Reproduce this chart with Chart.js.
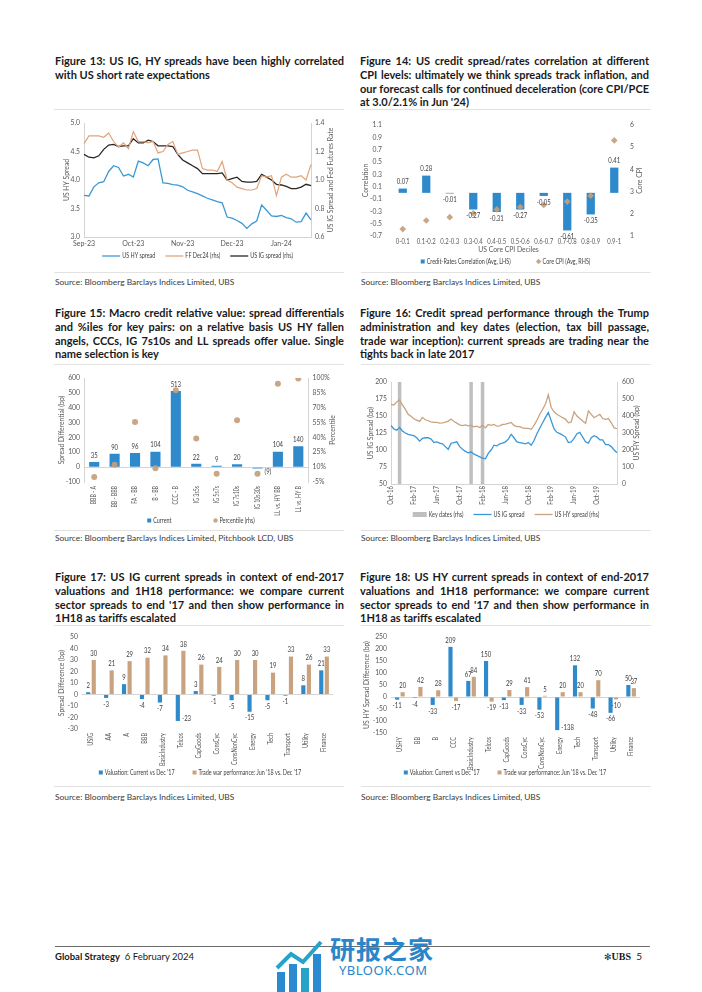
<!DOCTYPE html>
<html>
<head>
<meta charset="utf-8">
<script src="https://cdn.jsdelivr.net/npm/chart.js@4.4.1/dist/chart.umd.min.js"></script>
<style>
  html, body { margin: 0; padding: 0; background: #fff; }
  body { width: 702px; height: 992px; position: relative; overflow: hidden; font-family: Lato, "Open Sans", sans-serif; color: #1a1a1a; }
  .title { position: absolute; width: 289px; font-weight: 700; font-size: 11px; line-height: 13.8px; }
  .title span { display: block; white-space: nowrap; text-align: justify; text-align-last: justify; }
  .title span:last-child { text-align-last: left; }
  .rule { position: absolute; height: 1px; background: #e2e2e2; }
  .src { position: absolute; font-size: 8.4px; color: #3a3a3a; white-space: nowrap; }
  .box { position: absolute; }
</style>
</head>
<body>

<div class="title" style="left:55px;top:54px">
  <span>Figure 13: US IG, HY spreads have been highly correlated</span>
  <span>with US short rate expectations</span>
</div>
<div class="title" style="left:360px;top:54px">
  <span>Figure 14: US credit spread/rates correlation at different</span>
  <span>CPI levels: ultimately we think spreads track inflation, and</span>
  <span>our forecast calls for continued deceleration (core CPI/PCE</span>
  <span>at 3.0/2.1% in Jun '24)</span>
</div>
<div class="title" style="left:55px;top:306px">
  <span>Figure 15: Macro credit relative value: spread differentials</span>
  <span>and %iles for key pairs: on a relative basis US HY fallen</span>
  <span>angels, CCCs, IG 7s10s and LL spreads offer value. Single</span>
  <span>name selection is key</span>
</div>
<div class="title" style="left:360px;top:306px">
  <span>Figure 16: Credit spread performance through the Trump</span>
  <span>administration and key dates (election, tax bill passage,</span>
  <span>trade war inception): current spreads are trading near the</span>
  <span>tights back in late 2017</span>
</div>
<div class="title" style="left:55px;top:570px">
  <span>Figure 17: US IG current spreads in context of end-2017</span>
  <span>valuations and 1H18 performance: we compare current</span>
  <span>sector spreads to end '17 and then show performance in</span>
  <span>1H18 as tariffs escalated</span>
</div>
<div class="title" style="left:360px;top:570px">
  <span>Figure 18: US HY current spreads in context of end-2017</span>
  <span>valuations and 1H18 performance: we compare current</span>
  <span>sector spreads to end '17 and then show performance in</span>
  <span>1H18 as tariffs escalated</span>
</div>

<div class="rule" style="left:54px;top:109px;width:290px"></div>
<div class="rule" style="left:361px;top:109px;width:290px"></div>
<div class="rule" style="left:54px;top:272px;width:290px"></div>
<div class="rule" style="left:361px;top:272px;width:290px"></div>
<div class="rule" style="left:54px;top:364px;width:290px"></div>
<div class="rule" style="left:361px;top:364px;width:290px"></div>
<div class="rule" style="left:54px;top:530px;width:290px"></div>
<div class="rule" style="left:361px;top:530px;width:290px"></div>
<div class="rule" style="left:54px;top:625px;width:290px"></div>
<div class="rule" style="left:361px;top:625px;width:290px"></div>
<div class="rule" style="left:54px;top:786px;width:290px"></div>
<div class="rule" style="left:361px;top:786px;width:290px"></div>

<div class="src" style="left:55px;top:277px">Source: Bloomberg Barclays Indices Limited, UBS</div>
<div class="src" style="left:361px;top:277px">Source: Bloomberg Barclays Indices Limited, UBS</div>
<div class="src" style="left:55px;top:533px">Source: Bloomberg Barclays Indices Limited, Pitchbook LCD, UBS</div>
<div class="src" style="left:361px;top:533px">Source: Bloomberg Barclays Indices Limited, UBS</div>
<div class="src" style="left:55px;top:792px">Source: Bloomberg Barclays Indices Limited, UBS</div>
<div class="src" style="left:361px;top:792px">Source: Bloomberg Barclays Indices Limited, UBS</div>

<div class="box" style="left:55px;top:112px;width:290px;height:158px"><canvas id="c13"></canvas></div>
<div class="box" style="left:360px;top:112px;width:290px;height:163px"><canvas id="c14"></canvas></div>
<div class="box" style="left:55px;top:367px;width:290px;height:167px"><canvas id="c15"></canvas></div>
<div class="box" style="left:360px;top:367px;width:290px;height:161px"><canvas id="c16"></canvas></div>
<div class="box" style="left:55px;top:627px;width:290px;height:159px"><canvas id="c17"></canvas></div>
<div class="box" style="left:360px;top:627px;width:290px;height:159px"><canvas id="c18"></canvas></div>

<div style="position:absolute;left:55px;top:946px;width:595px;height:1px;background:#6b6b6b"></div>
<div style="position:absolute;left:275px;top:934px;width:160px;height:58px">
  <svg width="52" height="58" style="position:absolute;left:0;top:4px">
    <rect x="2" y="34" width="8" height="24" fill="#2a8bd0"/>
    <rect x="14" y="26" width="8" height="32" fill="#2a8bd0"/>
    <rect x="26" y="30" width="8" height="28" fill="#27a3c9"/>
    <rect x="38" y="16" width="8" height="42" fill="#2a8bd0"/>
    <polyline points="2,30 16,16 28,24 46,4" fill="none" stroke="#27a3c9" stroke-width="4"/>
  </svg>
  <div style="position:absolute;left:55px;top:0;font-family:'Noto Sans CJK SC';font-size:25px;font-weight:700;color:#2a86c8;letter-spacing:1px;line-height:28px">研报之家</div>
  <div style="position:absolute;left:64px;top:27px;font-family:'Noto Sans';font-size:13px;color:#2a86c8;letter-spacing:0.5px">YBLOOK.COM</div>
</div>
<div style="position:absolute;left:55px;top:951px;font-size:9.5px;color:#1a1a1a"><b>Global Strategy</b>&nbsp;&nbsp;6 February 2024</div>
<div style="position:absolute;left:604px;top:950px;font-size:10px;color:#1a1a1a"><span style="font-family:'DejaVu Sans';font-size:9px">✻</span><span style="font-family:'Liberation Serif';font-weight:700">UBS</span>&nbsp;&nbsp;<span style="font-family:Lato">5</span></div>

<script>
// ---- Figure 13 data ----
const f13Dates = [
  '01-Sep-23','04-Sep-23','07-Sep-23','10-Sep-23','13-Sep-23','16-Sep-23','19-Sep-23','22-Sep-23','25-Sep-23','28-Sep-23',
  '01-Oct-23','04-Oct-23','07-Oct-23','10-Oct-23','13-Oct-23','16-Oct-23','19-Oct-23','22-Oct-23','25-Oct-23','28-Oct-23',
  '01-Nov-23','04-Nov-23','07-Nov-23','10-Nov-23','13-Nov-23','16-Nov-23','19-Nov-23','22-Nov-23','25-Nov-23','28-Nov-23',
  '01-Dec-23','04-Dec-23','07-Dec-23','10-Dec-23','13-Dec-23','16-Dec-23','19-Dec-23','22-Dec-23','25-Dec-23','28-Dec-23',
  '01-Jan-24','04-Jan-24','07-Jan-24','10-Jan-24','13-Jan-24','16-Jan-24','19-Jan-24'
];
const f13HY = [3.73,3.72,3.88,3.95,3.97,4.15,4.25,4.22,4.07,4.10,
  4.05,4.33,4.30,4.25,4.36,4.37,3.95,3.94,3.92,3.91,
  3.88,3.82,3.79,3.76,3.72,3.68,3.65,3.62,3.60,3.35,
  3.33,3.29,3.24,3.15,3.23,3.28,3.56,3.47,3.37,3.36,
  3.38,3.34,3.32,3.26,3.27,3.42,3.30];
const f13FF = [1.255,1.31,1.31,1.31,1.30,1.33,1.27,1.23,1.26,1.22,
  1.34,1.27,1.27,1.26,1.27,1.19,1.20,1.25,1.27,1.18,
  1.19,1.20,1.21,1.21,1.08,1.07,1.07,1.06,1.13,1.00,
  0.98,0.95,0.94,0.93,0.93,0.94,1.03,1.02,1.03,0.89,
  1.02,1.04,1.02,1.02,1.03,1.00,1.11];
const f13IG = [1.18,1.16,1.155,1.17,1.215,1.245,1.25,1.235,1.24,1.24,
  1.29,1.26,1.26,1.28,1.27,1.24,1.24,1.24,1.235,1.18,
  1.14,1.12,1.10,1.08,1.045,1.045,1.045,1.045,1.05,1.00,
  1.01,1.02,0.99,0.985,0.985,0.99,1.04,1.02,1.00,0.97,
  0.965,0.955,0.94,0.94,0.95,0.97,0.96];

// ---- Figure 14 data ----
const f14Cats = ['0-0.1','0.1-0.2','0.2-0.3','0.3-0.4','0.4-0.5','0.5-0.6','0.6-0.7','0.7-0.8','0.8-0.9','0.9-1'];
const f14Corr = [0.07,0.28,-0.01,-0.27,-0.31,-0.27,-0.05,-0.61,-0.35,0.41];
const f14Cpi = [1.31,1.70,1.85,2.02,2.20,2.31,2.40,2.55,2.82,5.31];

// ---- Figure 15 data ----
const f15Cats = ['BBB - A','BB - BBB','FA - BB','B - BB','CCC - B','IG 3s5s','IG 5s7s','IG 7s10s','IG 10s30s','LL vs. HY BB','LL vs. HY B'];
const f15Current = [35,90,96,104,513,22,9,20,-9,104,140];
const f15Pct = [0,12.5,55.6,9,87.6,38.8,3.4,57.3,3.4,94.3,99.4];

// ---- Figure 16 data (1st and 15th of each month) ----
const f16Months = ['Oct-16','Nov-16','Dec-16','Jan-17','Feb-17','Mar-17','Apr-17','May-17','Jun-17','Jul-17',
  'Aug-17','Sep-17','Oct-17','Nov-17','Dec-17','Jan-18','Feb-18','Mar-18','Apr-18','May-18',
  'Jun-18','Jul-18','Aug-18','Sep-18','Oct-18','Nov-18','Dec-18','Jan-19','Feb-19','Mar-19',
  'Apr-19','May-19','Jun-19','Jul-19','Aug-19','Sep-19','Oct-19','Nov-19','Dec-19','Jan-20'];
const f16Dates = f16Months.flatMap(m => ['1-' + m, '15-' + m]);
const f16IG = [136,131,129,133,128,125,123,122,121,118,
  113,117,118,118,116,111,112,110,109,105,
  101,110,111,112,105,101,98,96,97,94,
  92,90,88,87,95,100,107,106,109,110,
  112,116,123,118,112,111,110,109,111,107,
  114,124,132,140,148,155,143,131,126,124,
  122,119,111,112,117,124,126,119,112,110,
  118,121,119,115,115,108,108,105,100,96];
const f16HY = [468,464,483,495,465,440,410,398,384,376,
  368,392,378,372,366,362,362,358,360,364,
  370,382,368,358,348,344,348,342,345,336,
  340,332,345,330,350,345,350,340,342,350,
  352,357,362,345,337,337,330,327,327,322,
  345,375,410,440,470,525,450,425,410,400,
  390,382,360,365,425,400,385,370,357,430,
  410,390,400,410,385,380,385,360,330,325];
const f16KeyDates = ['15-Nov-16','1-Dec-17','1-Feb-18'];
const f16KeyLevel = 600;
const f16TickMonths = ['Oct','Feb','Jun'];

// ---- Figure 17 data ----
const f17Cats = ['USIG','AA','A','BBB','BasicIndustry','Telcos','CapGoods','ConsCyc','ConsNonCyc','Energy','Tech','Transport','Utility','Finance'];
const f17Val = [2,-3,9,-4,-7,-23,3,-1,-5,-15,-5,-1,8,21];
const f17Trade = [30,21,29,32,34,38,26,24,30,30,19,33,26,33];

// ---- Figure 18 data ----
const f18Cats = ['USHY','BB','B','CCC','BasicIndustry','Telcos','CapGoods','ConsCyc','ConsNonCyc','Energy','Tech','Transport','Utility','Finance'];
const f18Val = [-11,-4,-33,209,67,150,-13,-33,-53,-138,132,-48,-66,50];
const f18Trade = [20,42,28,-17,84,-19,29,41,5,20,20,70,-10,37];

// fit justified titles into their column
document.querySelectorAll('.title').forEach(t => {
  const w = t.clientWidth;
  const spans = t.querySelectorAll('span');
  let maxW = 0;
  spans.forEach(s => { s.style.display = 'inline-block'; maxW = Math.max(maxW, s.offsetWidth); });
  spans.forEach(s => { s.style.display = ''; });
  if (maxW > w) t.style.fontSize = (11 * w / maxW - 0.05) + 'px';
});

const BLUE = '#2f8acb';
const BLUE_LINE = '#3b98d6';
const TAN = '#c9a27f';
const DOT = 'rgba(196,158,122,0.92)';
const ORANGE = '#e0a47c';
const DARK = '#2a2624';
const GREY = '#bfbfbf';
const AXIS = '#d4d4d4';
const FONT = 'Lato, "Open Sans", sans-serif';
const FS = 6.8;
const SQUEEZE = 0.8;

Chart.defaults.font.family = FONT;
Chart.defaults.font.size = FS;
Chart.defaults.color = '#595959';
Chart.defaults.animation = false;
Chart.defaults.maintainAspectRatio = false;
Chart.defaults.plugins.tooltip.enabled = false;
Chart.defaults.plugins.legend.display = false;

// value labels on bars
const valueLabels = {
  id: 'valueLabels',
  afterDatasetsDraw(chart, args, opts) {
    if (!opts || !opts.sets) return;
    const ctx = chart.ctx, area = chart.chartArea;
    ctx.save();
    ctx.font = FS + 'px ' + FONT;
    ctx.fillStyle = '#404040';
    const put = (txt, x, y, align, base) => {
      ctx.save(); ctx.translate(x, y); ctx.scale(0.88, 1);
      ctx.textAlign = align; ctx.textBaseline = base; ctx.fillText(txt, 0, 0); ctx.restore();
    };
    opts.sets.forEach(i => {
      const meta = chart.getDatasetMeta(i);
      const vals = chart.data.datasets[i].data;
      meta.data.forEach((el, j) => {
        const v = vals[j];
        if (v == null) return;
        const txt = opts.format ? opts.format(v) : String(v);
        if (v < 0 && (opts.negRight || (opts.fitRight && el.y + 3 + FS > area.bottom))) {
          put(txt, el.x + el.width / 2 + 2, opts.negRight ? el.y + 3 : el.y - 2, 'left', 'middle');
        } else if (v >= 0) {
          put(txt, el.x, el.y - 3, 'center', 'bottom');
        } else {
          put(txt, el.x, el.y + 3, 'center', 'top');
        }
      });
    });
    ctx.restore();
  }
};
// right-hand axis title reading bottom to top
const sideTitle = {
  id: 'sideTitle',
  afterDraw(chart, args, opts) {
    if (!opts || !opts.text) return;
    const ctx = chart.ctx, a = chart.chartArea;
    ctx.save();
    ctx.font = FS + 'px ' + FONT;
    ctx.fillStyle = '#595959';
    ctx.translate(opts.x, (a.top + a.bottom) / 2);
    ctx.rotate(-Math.PI / 2);
    ctx.textAlign = 'center';
    ctx.textBaseline = 'middle';
    ctx.fillText(opts.text, 0, 0);
    ctx.restore();
  }
};
// category labels placed by the x scale, drawn slightly condensed
const catLabels = {
  id: 'catLabels',
  afterDraw(chart, args, o) {
    if (!o || !o.on) return;
    const sc = chart.scales.x, ctx = chart.ctx;
    ctx.save();
    ctx.font = (o.size || 7) + 'px ' + FONT;
    ctx.fillStyle = '#595959';
    chart.data.labels.forEach((raw, i) => {
      const txt = o.text ? o.text(raw) : raw;
      if (!txt) return;
      ctx.save();
      ctx.translate(sc.getPixelForValue(i), sc.top + o.pad);
      if (o.rotate) {
        ctx.rotate(-Math.PI / 2);
        ctx.scale(o.squeeze, 1);
        ctx.textAlign = 'right'; ctx.textBaseline = 'middle';
      } else {
        ctx.scale(o.squeeze, 1);
        ctx.textAlign = 'center'; ctx.textBaseline = 'top';
      }
      ctx.fillText(txt, 0, 0);
      ctx.restore();
    });
    ctx.restore();
  }
};
// legend row under the chart, labels taken from the datasets
const rowLegend = {
  id: 'rowLegend',
  afterDraw(chart, args, o) {
    if (!o || !o.items) return;
    const ctx = chart.ctx;
    ctx.save();
    ctx.font = FS + 'px ' + FONT;
    ctx.textBaseline = 'middle';
    const y = chart.height - o.dy;
    const parts = o.items.map(it => {
      const ds = chart.data.datasets[it.ds];
      const mw = it.mark === 'line' ? 18 : it.mark === 'bar' ? 14 : 4;
      const tw = ctx.measureText(ds.label).width * SQUEEZE;
      const color = it.mark === 'line' ? ds.borderColor : ds.backgroundColor;
      return { ds, mark: it.mark, mw, tw, color, w: mw + 2 + tw };
    });
    const total = parts.reduce((s, p) => s + p.w, 0) + o.gap * (parts.length - 1);
    let x = o.cx - total / 2;
    parts.forEach(p => {
      ctx.fillStyle = p.color; ctx.strokeStyle = p.color;
      if (p.mark === 'line') { ctx.lineWidth = 1.3; ctx.beginPath(); ctx.moveTo(x, y); ctx.lineTo(x + p.mw, y); ctx.stroke(); }
      else if (p.mark === 'bar') ctx.fillRect(x, y - 2.5, p.mw, 5);
      else if (p.mark === 'rect') ctx.fillRect(x, y - 2, 4, 4);
      else if (p.mark === 'circle') { ctx.beginPath(); ctx.arc(x + 2, y, 2.2, 0, 2 * Math.PI); ctx.fill(); }
      else if (p.mark === 'diamond') { ctx.beginPath(); ctx.moveTo(x + 2, y - 2.7); ctx.lineTo(x + 4.7, y); ctx.lineTo(x + 2, y + 2.7); ctx.lineTo(x - 0.7, y); ctx.closePath(); ctx.fill(); }
      ctx.save(); ctx.translate(x + p.mw + 2, y); ctx.scale(SQUEEZE, 1);
      ctx.fillStyle = '#404040'; ctx.textAlign = 'left'; ctx.fillText(p.ds.label, 0, 0); ctx.restore();
      x += p.w + o.gap;
    });
    ctx.restore();
  }
};
Chart.register(valueLabels, sideTitle, catLabels, rowLegend);

const zeroGrid = { drawTicks: false, color: c => (c.tick && c.tick.value === 0) ? AXIS : 'rgba(0,0,0,0)' };
const noGrid = { display: false, drawTicks: false };
const axisTitle = (t, off) => ({ display: true, text: t, padding: { top: off, bottom: 0 } });
const fitW = w => (s => { s.width = w; });
const fitH = h => (s => { s.height = h; });

// Figure 13
new Chart(document.getElementById('c13'), {
  type: 'line',
  data: {
    labels: f13Dates,
    datasets: [
      { label: 'US HY spread', data: f13HY, borderColor: BLUE_LINE, backgroundColor: BLUE_LINE, borderWidth: 1.3, pointRadius: 0, yAxisID: 'y' },
      { label: 'FF Dec24 (rhs)', data: f13FF, borderColor: ORANGE, backgroundColor: ORANGE, borderWidth: 1.2, pointRadius: 0, yAxisID: 'y1' },
      { label: 'US IG spread (rhs)', data: f13IG, borderColor: DARK, backgroundColor: DARK, borderWidth: 1.3, pointRadius: 0, yAxisID: 'y1' }
    ]
  },
  options: {
    layout: { padding: { left: 0, right: 0, top: 11, bottom: 21 } },
    scales: {
      x: { grid: noGrid, border: { color: AXIS }, afterFit: fitH(12), ticks: { autoSkip: false, maxRotation: 0, padding: 3, font: { size: 7 },
        callback(v) { const l = this.getLabelForValue(v); return l.startsWith('01-') ? l.slice(3) : null; } } },
      y: { position: 'left', min: 3, max: 5, grid: noGrid, border: { color: AXIS }, afterFit: fitW(29),
        ticks: { stepSize: 0.5, padding: 4, autoSkip: false, callback: v => v.toFixed(1) }, title: axisTitle('US HY Spread', 8) },
      y1: { position: 'right', min: 0.6, max: 1.4, grid: noGrid, border: { color: AXIS }, afterFit: fitW(34),
        ticks: { stepSize: 0.2, padding: 4, autoSkip: false, callback: v => v.toFixed(1) } }
    },
    plugins: {
      rowLegend: { items: [{ ds: 0, mark: 'line' }, { ds: 1, mark: 'line' }, { ds: 2, mark: 'line' }], gap: 10, cx: 142.5, dy: 14 },
      sideTitle: { text: 'US IG Spread and Fed Futures Rate', x: 276 }
    }
  }
});

// Figure 14
new Chart(document.getElementById('c14'), {
  data: {
    labels: f14Cats,
    datasets: [
      { type: 'bar', label: 'Credit-Rates Correlation (Avg, LHS)', data: f14Corr, backgroundColor: BLUE, yAxisID: 'y', order: 1,
        barPercentage: 0.44, categoryPercentage: 0.8 },
      { type: 'line', label: 'Core CPI (Avg, RHS)', data: f14Cpi, showLine: false, pointStyle: 'rectRot', pointRadius: 3.3,
        backgroundColor: DOT, borderColor: DOT, borderWidth: 0, yAxisID: 'y1', order: 0 }
    ]
  },
  options: {
    layout: { padding: { left: 0, right: 0, top: 10, bottom: 20 } },
    scales: {
      x: { grid: noGrid, border: { display: false }, afterFit: fitH(19), ticks: { display: false },
        title: { display: true, text: 'US Core CPI Deciles', padding: { top: 0, bottom: 1 } } },
      y: { position: 'left', min: -0.7, max: 1.1, grid: zeroGrid, border: { display: false }, afterFit: fitW(31),
        ticks: { stepSize: 0.2, padding: 9, autoSkip: false, callback: v => v.toFixed(1) }, title: axisTitle('Correlation', 2) },
      y1: { position: 'right', min: 1, max: 6, grid: noGrid, border: { display: false }, afterFit: fitW(24),
        ticks: { stepSize: 1, padding: 4, autoSkip: false } }
    },
    plugins: {
      rowLegend: { items: [{ ds: 0, mark: 'rect' }, { ds: 1, mark: 'diamond' }], gap: 26, cx: 145.5, dy: 13.5 },
      valueLabels: { sets: [0], format: v => v.toFixed(2) },
      sideTitle: { text: 'Core CPI', x: 280 },
      catLabels: { on: true, rotate: false, squeeze: 0.85, pad: 2 }
    }
  }
});

// Figure 15
new Chart(document.getElementById('c15'), {
  data: {
    labels: f15Cats,
    datasets: [
      { type: 'bar', label: 'Current', data: f15Current, backgroundColor: BLUE, yAxisID: 'y', order: 1,
        barPercentage: 0.62, categoryPercentage: 0.8 },
      { type: 'line', label: 'Percentile (rhs)', data: f15Pct, showLine: false, pointStyle: 'circle', pointRadius: 3,
        backgroundColor: DOT, borderColor: DOT, borderWidth: 0, yAxisID: 'y1', order: 0 }
    ]
  },
  options: {
    layout: { padding: { left: 0, right: 0, top: 11, bottom: 20 } },
    scales: {
      x: { grid: noGrid, border: { display: false }, afterFit: fitH(32), ticks: { display: false } },
      y: { position: 'left', min: -100, max: 600, grid: zeroGrid, border: { color: AXIS }, afterFit: fitW(29),
        ticks: { stepSize: 100, padding: 4, autoSkip: false }, title: axisTitle('Spread Differential (bp)', 3) },
      y1: { position: 'right', min: -5, max: 100, grid: noGrid, border: { color: AXIS }, afterFit: fitW(36.5),
        ticks: { stepSize: 15, padding: 4, autoSkip: false, callback: v => Math.round(v) + '%' } }
    },
    plugins: {
      rowLegend: { items: [{ ds: 0, mark: 'rect' }, { ds: 1, mark: 'circle' }], gap: 42, cx: 146, dy: 13.5 },
      valueLabels: { sets: [0], negRight: true, format: v => v < 0 ? '(' + Math.abs(v) + ')' : String(v) },
      sideTitle: { text: 'Percentile', x: 278 },
      catLabels: { on: true, rotate: true, squeeze: 0.75, pad: 4 }
    }
  }
});

// Figure 16
new Chart(document.getElementById('c16'), {
  data: {
    labels: f16Dates,
    datasets: [
      { type: 'bar', label: 'Key dates (rhs)', data: f16Dates.map(d => f16KeyDates.includes(d) ? f16KeyLevel : null),
        backgroundColor: GREY, borderColor: GREY, yAxisID: 'y1', order: 3, barPercentage: 1, categoryPercentage: 1 },
      { type: 'line', label: 'US IG spread', data: f16IG, borderColor: BLUE_LINE, backgroundColor: BLUE_LINE, borderWidth: 1.3,
        pointRadius: 0, yAxisID: 'y', order: 1 },
      { type: 'line', label: 'US HY spread (rhs)', data: f16HY, borderColor: TAN, backgroundColor: TAN, borderWidth: 1.3,
        pointRadius: 0, yAxisID: 'y1', order: 2 }
    ]
  },
  options: {
    layout: { padding: { left: 0, right: 0, top: 15, bottom: 20 } },
    scales: {
      x: { offset: false, grid: noGrid, border: { color: AXIS }, afterFit: fitH(24), ticks: { display: false } },
      y: { position: 'left', min: 50, max: 200, grid: noGrid, border: { color: AXIS }, afterFit: fitW(31),
        ticks: { stepSize: 25, padding: 4, autoSkip: false }, title: axisTitle('US IG Spread (bp)', 7) },
      y1: { position: 'right', min: 0, max: 600, grid: noGrid, border: { color: AXIS }, afterFit: fitW(33),
        ticks: { stepSize: 100, padding: 5, autoSkip: false } }
    },
    plugins: {
      rowLegend: { items: [{ ds: 0, mark: 'bar' }, { ds: 1, mark: 'line' }, { ds: 2, mark: 'line' }], gap: 10, cx: 146, dy: 13.5 },
      sideTitle: { text: 'US HY Spread (bp)', x: 277 },
      catLabels: { on: true, rotate: true, squeeze: 0.85, pad: 2,
        text: l => { const p = l.split('-'); return (p[0] === '1' && f16TickMonths.includes(p[1])) ? p[1] + '-' + p[2] : null; } }
    }
  }
});

// Figures 17 & 18
function sectorChart(id, cats, val, trade, min, max, step, title, axisW, padRight, xH) {
  new Chart(document.getElementById(id), {
    type: 'bar',
    data: {
      labels: cats,
      datasets: [
        { label: "Valuation: Current vs Dec '17", data: val, backgroundColor: BLUE, barPercentage: 0.75, categoryPercentage: 0.62 },
        { label: "Trade war performance: Jun '18 vs. Dec '17", data: trade, backgroundColor: TAN, barPercentage: 0.75, categoryPercentage: 0.62 }
      ]
    },
    options: {
      layout: { padding: { left: 0, right: padRight, top: 10, bottom: 20 } },
      scales: {
        x: { grid: noGrid, border: { display: false }, afterFit: fitH(xH), ticks: { display: false } },
        y: { min, max, grid: zeroGrid, border: { display: false }, afterFit: fitW(axisW),
          ticks: { stepSize: step, padding: 4, autoSkip: false }, title: axisTitle(title, 3) }
      },
      plugins: {
        rowLegend: { items: [{ ds: 0, mark: 'rect' }, { ds: 1, mark: 'rect' }], gap: 18, cx: 145, dy: 13.5 },
        valueLabels: { sets: [0, 1], fitRight: true },
        catLabels: { on: true, rotate: true, squeeze: 0.8, pad: 4 }
      }
    }
  });
}
sectorChart('c17', f17Cats, f17Val, f17Trade, -30, 50, 10, 'Spread Difference (bp)', 27, 12, 37);
sectorChart('c18', f18Cats, f18Val, f18Trade, -150, 250, 50, 'US HY Spread Difference (bp)', 31, 10, 33);
</script>
</body>
</html>
